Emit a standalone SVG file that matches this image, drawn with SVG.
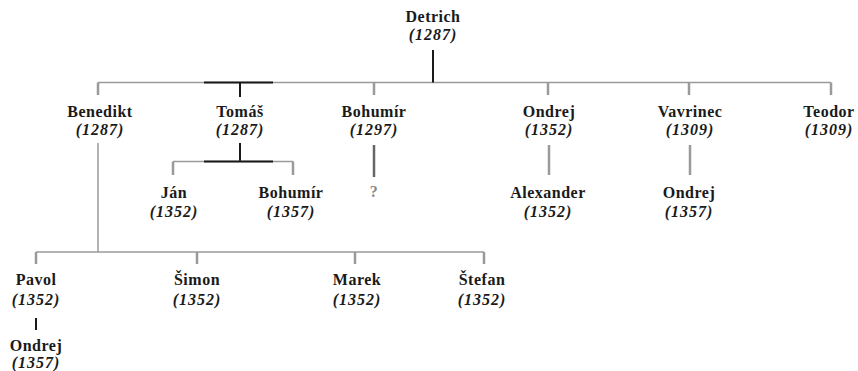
<svg xmlns="http://www.w3.org/2000/svg" width="858" height="371" viewBox="0 0 858 371">
<style>
.n{font-family:"Liberation Serif","Times New Roman",serif;font-weight:bold;font-size:16px;letter-spacing:0.5px;fill:#1a1a1a;text-anchor:middle}
.d{font-family:"Liberation Serif","Times New Roman",serif;font-style:italic;font-weight:bold;font-size:16px;letter-spacing:1px;fill:#1a1a1a;text-anchor:middle}
.g{stroke:#9a9a9a;stroke-width:1.5;fill:none}
.t{stroke:#9a9a9a;stroke-width:2.5;fill:none}
.k{stroke:#1a1a1a;stroke-width:2;fill:none}
.m{stroke:#666;stroke-width:2.5;fill:none}
</style>
<rect width="858" height="371" fill="#fff"/>
<g id="connectors">
<line class="g" x1="98" y1="82.5" x2="831" y2="82.5"/>
<line class="k" x1="204" y1="82.5" x2="273" y2="82.5"/>
<line class="k" x1="433" y1="50" x2="433" y2="82.5"/>
<line class="k" x1="240" y1="82.5" x2="240" y2="97"/>
<line class="t" x1="98" y1="82.5" x2="98" y2="95"/>
<line class="t" x1="374" y1="82.5" x2="374" y2="95"/>
<line class="t" x1="548" y1="82.5" x2="548" y2="95"/>
<line class="t" x1="689" y1="82.5" x2="689" y2="95"/>
<line class="t" x1="831" y1="82.5" x2="831" y2="95"/>
<line class="k" x1="240" y1="143" x2="240" y2="161.5"/>
<line class="g" x1="173" y1="161.5" x2="293" y2="161.5"/>
<line class="k" x1="204" y1="161.5" x2="273" y2="161.5"/>
<line class="t" x1="173" y1="161.5" x2="173" y2="175"/>
<line class="t" x1="293" y1="161.5" x2="293" y2="175"/>
<line class="m" x1="374" y1="145" x2="374" y2="177"/>
<line class="t" x1="549" y1="145" x2="549" y2="175"/>
<line class="t" x1="690" y1="145" x2="690" y2="175"/>
<line class="g" x1="98" y1="143" x2="98" y2="252"/>
<line class="g" x1="36" y1="252" x2="484" y2="252"/>
<line class="t" x1="36" y1="252" x2="36" y2="264"/>
<line class="t" x1="197" y1="252" x2="197" y2="264"/>
<line class="t" x1="355" y1="252" x2="355" y2="264"/>
<line class="t" x1="484" y1="252" x2="484" y2="264"/>
<line class="k" x1="36" y1="318" x2="36" y2="330"/>
</g>
<g id="detrich"><text class="n" x="433" y="22">Detrich</text><text class="d" x="433" y="40">(1287)</text></g>
<g id="benedikt"><text class="n" x="100" y="117">Benedikt</text><text class="d" x="100" y="135">(1287)</text></g>
<g id="tomas"><text class="n" x="240" y="117">Tomáš</text><text class="d" x="240" y="135">(1287)</text></g>
<g id="bohumir1"><text class="n" x="374" y="117">Bohumír</text><text class="d" x="374" y="135">(1297)</text></g>
<g id="ondrej1"><text class="n" x="549" y="117">Ondrej</text><text class="d" x="549" y="135">(1352)</text></g>
<g id="vavrinec"><text class="n" x="690" y="117">Vavrinec</text><text class="d" x="690" y="135">(1309)</text></g>
<g id="teodor"><text class="n" x="829" y="117">Teodor</text><text class="d" x="829" y="135">(1309)</text></g>
<g id="jan"><text class="n" x="174" y="198">Ján</text><text class="d" x="174" y="217">(1352)</text></g>
<g id="bohumir2"><text class="n" x="291" y="198">Bohumír</text><text class="d" x="291" y="217">(1357)</text></g>
<g id="unknown"><text class="n" x="374" y="197" style="fill:#888">?</text></g>
<g id="alexander"><text class="n" x="548" y="198">Alexander</text><text class="d" x="548" y="217">(1352)</text></g>
<g id="ondrej2"><text class="n" x="689" y="198">Ondrej</text><text class="d" x="689" y="217">(1357)</text></g>
<g id="pavol"><text class="n" x="36" y="285">Pavol</text><text class="d" x="36" y="305">(1352)</text></g>
<g id="simon"><text class="n" x="197" y="285">Šimon</text><text class="d" x="197" y="305">(1352)</text></g>
<g id="marek"><text class="n" x="357" y="285">Marek</text><text class="d" x="357" y="305">(1352)</text></g>
<g id="stefan"><text class="n" x="482" y="285">Štefan</text><text class="d" x="482" y="305">(1352)</text></g>
<g id="ondrej3"><text class="n" x="36" y="351">Ondrej</text><text class="d" x="36" y="368">(1357)</text></g>
</svg>
